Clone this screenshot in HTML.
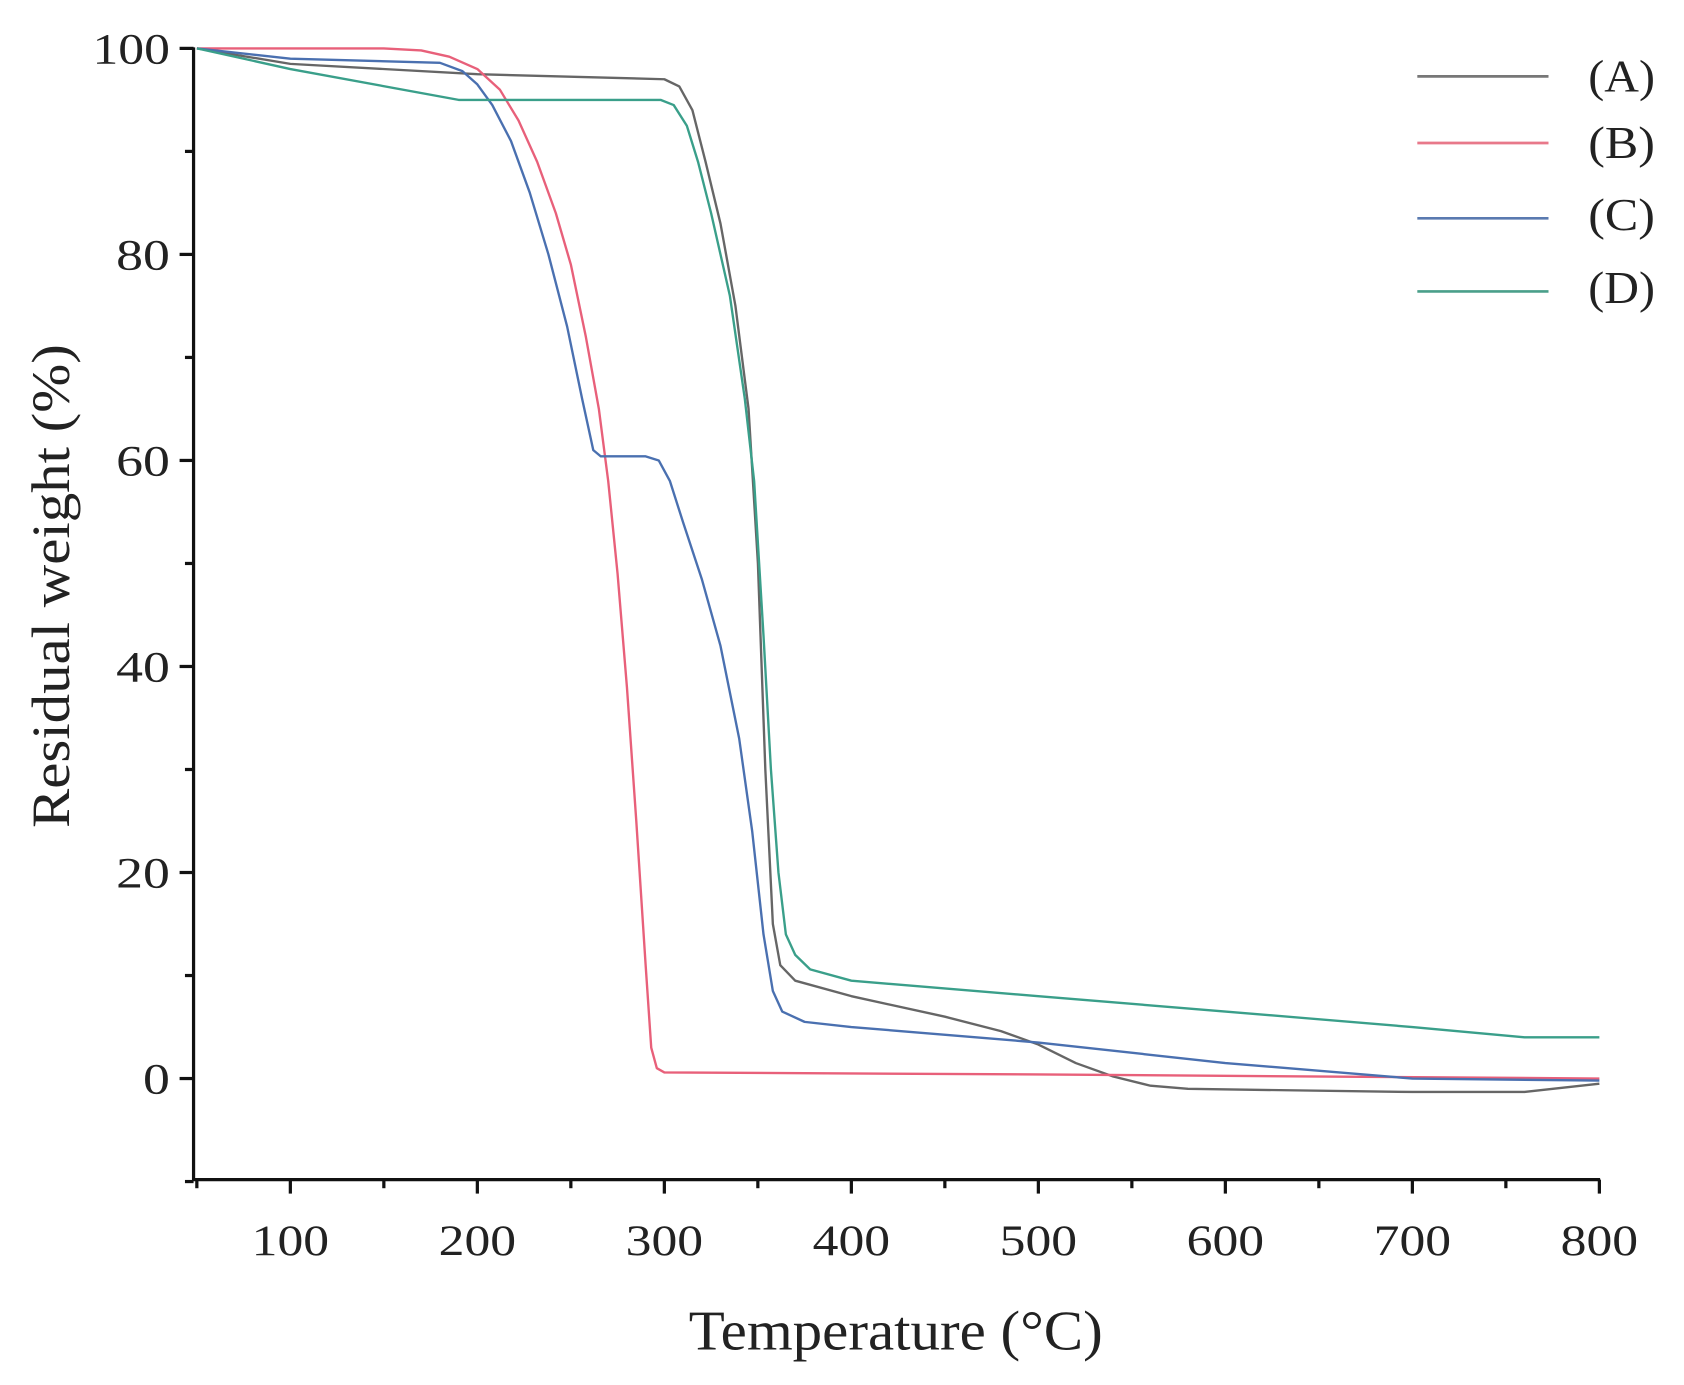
<!DOCTYPE html>
<html><head><meta charset="utf-8"><style>html,body{margin:0;padding:0;background:#fff}svg{display:block}</style></head>
<body>
<svg width="1684" height="1385" viewBox="0 0 1566 1288" preserveAspectRatio="none" xmlns="http://www.w3.org/2000/svg" font-family="Liberation Serif, serif" fill="#222">
<g stroke="#111" stroke-width="3" fill="none">
<line x1="180" y1="44" x2="180" y2="1098"/>
<line x1="179" y1="1097" x2="1488" y2="1097"/>
</g>
<g id="ticks" stroke="#111" stroke-width="3"></g>
<g id="labels" font-size="40" fill="#222"></g>
<text x="833" y="1255" font-size="52" text-anchor="middle" textLength="385" lengthAdjust="spacingAndGlyphs">Temperature (°C)</text>
<text transform="translate(64,545) rotate(-90)" font-size="50" text-anchor="middle" textLength="450" lengthAdjust="spacingAndGlyphs">Residual weight (%)</text>
<g fill="none" stroke-width="2.2" stroke-linejoin="round">
<path id="pA" stroke="#666"/>
<path id="pB" stroke="#e8607a"/>
<path id="pC" stroke="#4a70b0"/>
<path id="pD" stroke="#3a9f8a"/>
</g>
<g stroke-width="2.5">
<line x1="1318" y1="71" x2="1440" y2="71" stroke="#777"/>
<line x1="1318" y1="133" x2="1440" y2="133" stroke="#e8788a"/>
<line x1="1318" y1="203" x2="1440" y2="203" stroke="#5a7ab0"/>
<line x1="1318" y1="271" x2="1440" y2="271" stroke="#4a9f8a"/>
</g>
<g font-size="42">
<text x="1477" y="85" textLength="62" lengthAdjust="spacingAndGlyphs">(A)</text>
<text x="1477" y="147" textLength="62" lengthAdjust="spacingAndGlyphs">(B)</text>
<text x="1477" y="214" textLength="62" lengthAdjust="spacingAndGlyphs">(C)</text>
<text x="1477" y="282" textLength="62" lengthAdjust="spacingAndGlyphs">(D)</text>
</g>
<script>
var X=function(t){return 270+(t-100)*1.739},Y=function(v){return 1003-v*9.58};
var tk=document.getElementById('ticks'),lb=document.getElementById('labels'),ns='http://www.w3.org/2000/svg';
function el(p,n,a,t){var e=document.createElementNS(ns,n);for(var k in a)e.setAttribute(k,a[k]);if(t!==undefined)e.textContent=t;p.appendChild(e);}
function w(s){return s.length==3?72:(s.length==2?50:25);}
for(var t=50;t<=800;t+=50){var maj=t%100==0;el(tk,'line',{x1:X(t),y1:1097,x2:X(t),y2:1097+(maj?13:8)});if(maj)el(lb,'text',{x:X(t)-36,y:1167,textLength:72,lengthAdjust:'spacingAndGlyphs'},String(t));}
for(var v=-10;v<=100;v+=10){var maj=v%20==0&&v>=0;el(tk,'line',{x1:180,y1:Y(v),x2:180-(maj?13:8),y2:Y(v)});if(maj){var s=String(v);el(lb,'text',{x:158-w(s),y:Y(v)+14,textLength:w(s),lengthAdjust:'spacingAndGlyphs'},s);}}
var D={
pA:[[50,100],[100,98.5],[200,97.5],[300,97],[308,96.3],[315,94],[322,89],[330,83],[338,75],[345,65],[350,50],[354,30],[358,15],[362,11],[370,9.5],[400,8],[450,6],[480,4.6],[500,3.3],[520,1.5],[540,0.2],[560,-0.7],[580,-1],[700,-1.3],[760,-1.3],[800,-0.5]],
pB:[[50,100],[150,100],[170,99.8],[185,99.2],[200,98],[212,96],[222,93],[232,89],[242,84],[250,79],[258,72],[265,65],[270,58],[275,49],[280,38],[285,25],[290,11],[293,3],[296,1],[300,0.6],[500,0.4],[800,0]],
pC:[[50,100],[100,99],[180,98.6],[192,97.8],[200,96.5],[208,94.5],[218,91],[228,86],[238,80],[248,73],[256,66],[262,61],[266,60.4],[290,60.4],[297,60],[303,58],[310,54],[320,48.5],[330,42],[340,33],[347,24],[353,14],[358,8.5],[363,6.5],[375,5.5],[400,5],[500,3.5],[600,1.5],[700,0],[800,-0.2]],
pD:[[50,100],[100,98],[190,95],[298,95],[305,94.5],[312,92.5],[318,89],[325,84],[335,76],[343,66],[348,58],[353,43],[357,30],[361,20],[365,14],[370,12],[378,10.6],[400,9.5],[500,8],[600,6.5],[700,5],[760,4],[800,4]]};
for(var k in D){var s='';D[k].forEach(function(p,i){s+=(i?'L':'M')+X(p[0]).toFixed(1)+','+Y(p[1]).toFixed(1);});document.getElementById(k).setAttribute('d',s);}
</script>
</svg>
</body></html>
